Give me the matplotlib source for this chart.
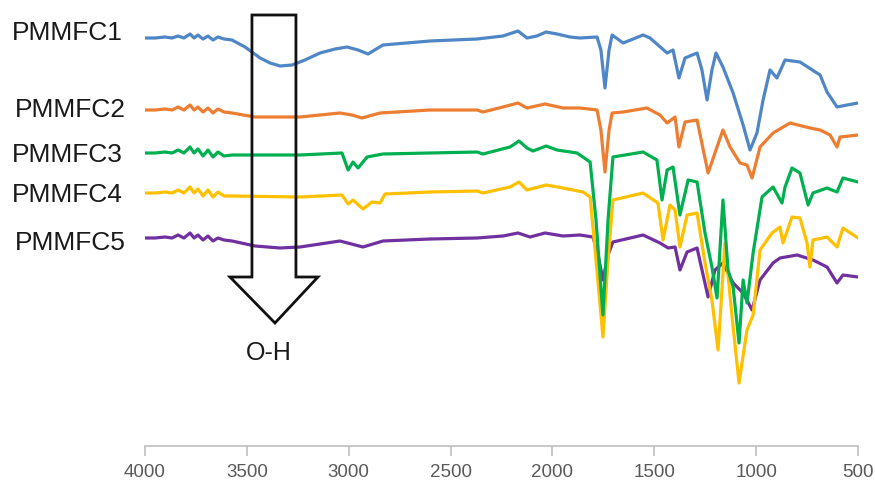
import numpy as np
import matplotlib
matplotlib.use("Agg")
import matplotlib.pyplot as plt
from matplotlib.patches import Polygon

plt.rcParams["font.family"] = ["Liberation Sans", "DejaVu Sans"]

# wavenumbers (cm-1) and offset transmittance (a.u.)
noise_wn = [4000, 3951, 3902, 3867, 3838, 3809, 3779, 3759, 3740, 3715, 3691, 3666, 3642, 3612, 3573]

wn1 = noise_wn + [3509, 3435, 3386, 3337, 3278, 3215, 3141, 3067, 3008, 2954, 2905, 2832, 2601, 2370,
                  2243, 2169, 2125, 2076, 2031, 1977, 1914, 1865, 1781, 1762, 1742, 1722, 1707, 1653,
                  1555, 1521, 1437, 1408, 1379, 1349, 1290, 1266, 1241, 1217, 1197, 1163, 1113, 1064,
                  1030, 996, 966, 932, 898, 858, 785, 686, 652, 603, 554, 500]
t1 = [408, 408, 409, 408, 410, 408, 412, 408, 411, 407, 410, 406, 409, 407, 406,
      399, 388, 383, 380, 381, 386, 393, 397, 399, 396, 392, 401, 405, 407,
      410, 415, 408, 410, 414, 412, 409, 408, 409, 396, 358, 396, 411, 403,
      411, 408, 393, 396, 368, 388, 393, 376, 346, 376, 393, 379, 353, 321,
      296, 313, 346, 376, 368, 386, 384, 371, 354, 339, 341, 343]

wn2 = noise_wn + [3460, 3239, 3043, 2984, 2935, 2846, 2601, 2370, 2341, 2243, 2169, 2125, 2036, 1948,
                  1865, 1781, 1762, 1742, 1722, 1707, 1653, 1536, 1472, 1437, 1398, 1379, 1349, 1290,
                  1236, 1192, 1163, 1128, 1079, 1045, 1020, 981, 917, 834, 736, 686, 637, 603, 588, 500]
t2 = [336, 336, 337, 336, 339, 336, 341, 336, 339, 334, 338, 333, 337, 334, 333,
      329, 329, 333, 331, 328, 333, 336, 336, 334, 339, 343, 338, 342, 338,
      338, 336, 316, 274, 316, 333, 334, 338, 331, 323, 329, 299, 324, 326,
      273, 299, 316, 299, 283, 281, 268, 299, 313, 323, 318, 316, 311, 299, 309, 311]

wn3 = noise_wn + [3239, 3033, 3003, 2979, 2954, 2910, 2832, 2601, 2370, 2341, 2208, 2164, 2125, 2095,
                  2031, 1977, 1879, 1815, 1786, 1752, 1727, 1703, 1555, 1487, 1462, 1437, 1408, 1374,
                  1334, 1290, 1251, 1217, 1192, 1163, 1138, 1113, 1084, 1064, 1045, 1015, 971, 917,
                  873, 858, 824, 785, 745, 721, 652, 603, 574, 500]
t3 = [293, 293, 294, 293, 296, 293, 299, 293, 297, 290, 296, 289, 294, 290, 291,
      291, 293, 276, 284, 278, 289, 292, 293, 294, 292, 299, 305, 298, 295,
      300, 296, 293, 284, 226, 131, 226, 289, 294, 286, 246, 276, 279, 231,
      266, 264, 213, 179, 148, 246, 176, 159, 103, 166, 143, 193, 249, 259,
      243, 259, 278, 273, 241, 253, 258, 254, 268, 264]

wn4 = noise_wn + [3239, 3033, 3003, 2979, 2930, 2886, 2846, 2822, 2601, 2370, 2341, 2208, 2164, 2125,
                  2031, 1948, 1850, 1815, 1786, 1752, 1727, 1703, 1555, 1482, 1457, 1423, 1398, 1374,
                  1339, 1290, 1251, 1217, 1187, 1153, 1118, 1084, 1045, 1015, 981, 922, 883, 868,
                  824, 785, 750, 736, 721, 652, 603, 574, 500]
t4 = [253, 253, 254, 253, 256, 253, 259, 253, 257, 250, 256, 249, 254, 250, 250,
      249, 251, 242, 246, 237, 244, 243, 252, 254, 255, 253, 259, 264, 256,
      261, 258, 254, 249, 186, 109, 186, 246, 253, 243, 206, 241, 236, 199,
      231, 233, 183, 146, 96, 203, 129, 63, 116, 131, 196, 213, 219, 203,
      229, 228, 203, 179, 206, 209, 199, 218, 208]

wn5 = noise_wn + [3460, 3337, 3239, 3043, 2930, 2832, 2601, 2370, 2243, 2169, 2110, 2036, 1948, 1865,
                  1801, 1776, 1752, 1727, 1703, 1555, 1472, 1432, 1398, 1374, 1339, 1290, 1236, 1202,
                  1163, 1113, 1064, 1020, 981, 917, 883, 799, 721, 652, 603, 574, 500]
t5 = [208, 208, 209, 208, 211, 208, 213, 208, 211, 206, 210, 205, 208, 206, 205,
      200, 198, 199, 205, 199, 205, 207, 208, 210, 213, 209, 213, 210, 211,
      209, 191, 166, 191, 204, 211, 203, 198, 199, 176, 194, 198, 149, 176,
      183, 163, 153, 136, 166, 183, 188, 191, 186, 179, 163, 171, 169]

labels = ["PMMFC1", "PMMFC2", "PMMFC3", "PMMFC4", "PMMFC5"]
colors = ["#4F86C6", "#ED7D31", "#00B050", "#FFC000", "#7030A0"]
series = [(wn1, t1), (wn2, t2), (wn3, t3), (wn4, t4), (wn5, t5)]

fig = plt.figure(figsize=(8.75, 4.82), dpi=100)
ax = fig.add_axes([145 / 875, 36 / 482, 713 / 875, 446 / 482])

# purple first so the others sit on top, as in the original
for (wn, t), c in reversed(list(zip(series, colors))):
    ax.plot(wn, t, color=c, lw=2.3, solid_joinstyle="round", solid_capstyle="round")

ax.set_xlim(4000, 500)
ax.set_ylim(0, 446)
ax.set_xticks(np.arange(4000, 499, -500))
ax.set_yticks([])
for s in ["top", "right", "left"]:
    ax.spines[s].set_visible(False)
ax.spines["bottom"].set_color("#BFBFBF")
ax.spines["bottom"].set_linewidth(1.2)
ax.tick_params(axis="x", direction="out", length=7, width=1.2, color="#BFBFBF",
               labelcolor="#595959", labelsize=13.5, pad=6)

# O-H arrow (hollow)
arrow = Polygon([(3475, 431), (3259, 431), (3259, 169), (3151, 169), (3362, 123),
                 (3583, 169), (3475, 169)], closed=True, fill=False, edgecolor="#111111",
                lw=2.0, zorder=5)
ax.add_patch(arrow)
ax.text(3390, 93, "O-H", fontsize=18, ha="center", va="center", color="#1a1a1a")

# sample labels on the left
label_y = [33, 110, 155, 195, 243]
label_x = [12, 15, 12, 12, 15]
for lab, lx, ly in zip(labels, label_x, label_y):
    fig.text(lx / 875, 1 - ly / 482, lab, fontsize=19, ha="left", va="center", color="#1a1a1a")

fig.savefig("out.png", dpi=100)
